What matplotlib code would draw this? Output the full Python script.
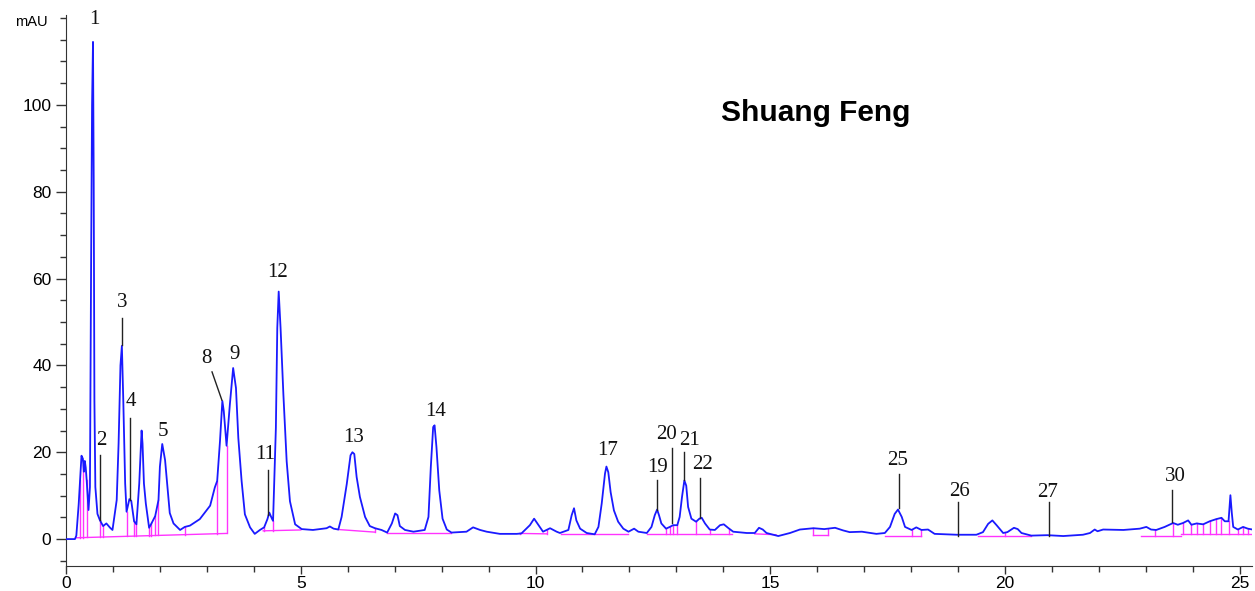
import numpy as np
import matplotlib
matplotlib.use("Agg")
import matplotlib.pyplot as plt
from matplotlib.ticker import MultipleLocator

# chromatogram trace (retention time in min, signal in mAU)
rt = [0.00, 0.19, 0.22, 0.27, 0.30, 0.33, 0.36, 0.38, 0.40, 0.42, 0.44, 0.48,
      0.51, 0.535, 0.555, 0.575, 0.59, 0.605, 0.625, 0.67, 0.72, 0.79, 0.86,
      0.94, 0.99, 1.08, 1.12, 1.16, 1.19, 1.22, 1.26, 1.29, 1.35, 1.39, 1.45,
      1.50, 1.56, 1.61, 1.63, 1.66, 1.70, 1.77, 1.82, 1.90, 1.97, 2.00, 2.05,
      2.11, 2.16, 2.21, 2.29, 2.43, 2.53, 2.64, 2.85, 3.07, 3.17, 3.22, 3.28,
      3.33, 3.36, 3.42, 3.49, 3.56, 3.62, 3.67, 3.74, 3.81, 3.92, 4.02, 4.13,
      4.22, 4.29, 4.33, 4.39, 4.41, 4.47, 4.50, 4.53, 4.57, 4.63, 4.70, 4.77,
      4.88, 5.02, 5.26, 5.55, 5.62, 5.70, 5.80, 5.87, 5.98, 6.06, 6.10, 6.14,
      6.19, 6.26, 6.37, 6.47, 6.58, 6.72, 6.84, 6.94, 7.01, 7.06, 7.11, 7.22,
      7.40, 7.64, 7.72, 7.77, 7.82, 7.85, 7.89, 7.95, 8.02, 8.11, 8.21, 8.53,
      8.67, 8.82, 8.96, 9.24, 9.60, 9.70, 9.88, 9.97, 10.04, 10.16, 10.31,
      10.45, 10.52, 10.70, 10.77, 10.82, 10.87, 10.95, 11.09, 11.26, 11.34,
      11.41, 11.48, 11.51, 11.55, 11.60, 11.67, 11.76, 11.87, 11.98, 12.05,
      12.10, 12.19, 12.37, 12.47, 12.54, 12.59, 12.63, 12.68, 12.78, 12.86,
      12.93, 13.02, 13.07, 13.12, 13.17, 13.21, 13.25, 13.32, 13.42, 13.49,
      13.54, 13.61, 13.71, 13.82, 13.93, 14.01, 14.10, 14.21, 14.50, 14.67,
      14.76, 14.84, 14.92, 15.17, 15.42, 15.63, 15.92, 16.15, 16.38, 16.55,
      16.69, 16.95, 17.26, 17.44, 17.55, 17.65, 17.72, 17.80, 17.87, 18.01,
      18.11, 18.22, 18.36, 18.50, 18.97, 19.39, 19.53, 19.64, 19.73, 19.82,
      19.96, 20.05, 20.19, 20.27, 20.35, 20.56, 20.90, 21.24, 21.66, 21.81,
      21.91, 21.97, 22.09, 22.52, 22.87, 23.01, 23.11, 23.22, 23.40, 23.58,
      23.68, 23.79, 23.90, 23.97, 24.08, 24.22, 24.36, 24.50, 24.61, 24.68,
      24.76, 24.80, 24.83, 24.86, 24.96, 25.07, 25.17, 25.27]
mau = [0.0, 0.0, 0.8, 8.0, 13.6, 19.2, 18.5, 15.5, 18.0, 16.5, 13.6, 6.7,
       12.0, 64.0, 100.0, 114.5, 83.0, 32.0, 12.0, 5.8, 4.4, 3.0, 3.6,
       2.6, 2.1, 9.0, 22.0, 40.0, 44.5, 32.0, 12.8, 6.3, 9.2, 8.8, 4.1,
       3.4, 12.8, 25.0, 22.0, 12.8, 8.2, 2.6, 3.6, 5.3, 9.0, 16.7, 21.9,
       18.2, 12.1, 6.0, 3.6, 2.1, 2.8, 3.1, 4.6, 7.7, 11.9, 13.4, 22.6,
       31.8, 29.5, 21.5, 31.0, 39.4, 34.8, 23.3, 13.4, 5.7, 2.7, 1.2, 2.1,
       2.7, 4.6, 6.1, 4.6, 4.2, 25.6, 48.6, 57.0, 48.6, 33.3, 17.9, 8.7,
       3.4, 2.3, 2.1, 2.5, 2.9, 2.4, 2.2, 5.1, 12.7, 19.3, 20.0, 19.6,
       14.3, 9.7, 5.1, 3.0, 2.5, 2.1, 1.5, 3.6, 5.9, 5.5, 3.0, 2.1,
       1.7, 2.1, 5.1, 16.6, 25.8, 26.2, 21.2, 11.2, 4.7, 2.2, 1.5, 1.7,
       2.7, 2.1, 1.7, 1.2, 1.2, 1.3, 3.2, 4.7, 3.6, 1.7, 2.5,
       1.7, 1.4, 2.1, 5.5, 7.1, 4.3, 2.4, 1.4, 1.1, 2.8,
       8.2, 15.1, 16.7, 15.4, 10.8, 6.6, 4.0, 2.4, 1.7, 2.1,
       2.4, 1.7, 1.4, 2.8, 5.5, 6.8, 5.5, 3.6, 2.4, 2.8,
       3.2, 3.2, 5.1, 9.7, 13.5, 12.3, 7.4, 4.7, 4.0, 4.7,
       4.9, 3.6, 2.2, 2.1, 3.2, 3.4, 2.6, 1.7, 1.4, 1.4,
       2.6, 2.2, 1.4, 0.7, 1.4, 2.2, 2.5, 2.3, 2.6, 2.0,
       1.6, 1.7, 1.2, 1.4, 2.8, 5.8, 6.8, 5.1, 2.8, 2.1,
       2.7, 2.1, 2.2, 1.2, 1.0, 1.0, 1.6, 3.5, 4.3, 3.2,
       1.4, 1.6, 2.6, 2.3, 1.4, 0.8, 0.9, 0.7, 1.0, 1.4,
       2.2, 1.8, 2.2, 2.1, 2.4, 2.8, 2.2, 2.1, 2.8, 3.7,
       3.3, 3.7, 4.3, 3.3, 3.6, 3.4, 4.1, 4.6, 4.9, 4.1,
       4.1, 10.1, 6.0, 2.8, 2.2, 2.8, 2.4, 2.2]

# integration baselines (start time, start mAU, end time, end mAU)
base_t0 = [0.22, 4.20, 5.80, 6.84, 9.67, 10.55, 12.37, 14.67, 15.91, 17.44, 19.43, 22.90, 23.75]
base_y0 = [0.3, 1.9, 2.2, 1.4, 1.3, 1.2, 1.2, 1.2, 1.0, 0.8, 0.8, 0.7, 1.2]
base_t1 = [3.42, 5.00, 6.58, 8.21, 10.24, 11.96, 14.18, 15.12, 16.23, 18.22, 20.56, 23.75, 25.25]
base_y1 = [1.3, 2.1, 1.6, 1.4, 1.2, 1.2, 1.2, 1.0, 1.0, 0.8, 0.8, 0.7, 1.2]

# peak cut lines dropped to the baseline
drop_t = [0.30, 0.37, 0.44, 0.72, 0.79, 1.29, 1.45, 1.50, 1.77, 1.82, 1.90, 1.97,
          2.53, 3.22, 3.42, 4.22, 4.41, 5.80, 6.58, 6.84, 8.21, 9.67, 10.24,
          11.26, 12.78, 12.86, 12.93, 13.02, 13.42, 13.71, 14.13, 15.91, 16.23,
          18.01, 18.22, 20.00, 23.19, 23.58, 23.79, 23.97, 24.08, 24.22, 24.36,
          24.50, 24.61, 24.76, 24.96, 25.07, 25.17]

# peak numbers
peak_lbl = ["1", "2", "3", "4", "5", "8", "9", "11", "12", "13", "14", "17",
            "19", "20", "21", "22", "25", "26", "27", "30"]
peak_lbl_t = [0.60, 0.76, 1.19, 1.39, 2.07, 3.00, 3.58, 4.24, 4.51, 6.13, 7.88,
              11.54, 12.59, 12.80, 13.29, 13.56, 17.72, 19.04, 20.91, 23.62]
peak_lbl_y = [119.6, 22.8, 54.4, 31.6, 24.7, 41.7, 42.4, 19.4, 61.5, 23.3, 29.3,
              20.3, 16.4, 24.0, 22.8, 17.1, 18.2, 11.0, 10.8, 14.5]

# leader lines from numbers to peaks
lead_t0 = [0.72, 1.19, 1.36, 3.11, 4.30, 12.59, 12.90, 13.16, 13.50, 17.74, 18.99, 20.93, 23.56]
lead_y0 = [19.4, 51.0, 27.9, 38.5, 15.9, 13.6, 21.0, 20.0, 14.0, 15.0, 8.5, 8.5, 11.3]
lead_t1 = [0.72, 1.19, 1.36, 3.32, 4.30, 12.59, 12.90, 13.16, 13.50, 17.74, 18.99, 20.93, 23.56]
lead_y1 = [4.4, 44.7, 9.0, 32.0, 5.5, 6.7, 3.6, 13.6, 4.8, 7.1, 0.8, 0.8, 3.9]


def baseline_at(t):
    for a, ya, b, yb in zip(base_t0, base_y0, base_t1, base_y1):
        if a - 1e-6 <= t <= b + 1e-6:
            return ya + (yb - ya) * (t - a) / (b - a)
    return 1.0


fig = plt.figure(figsize=(12.55, 5.91), dpi=100)
ax = fig.add_axes([66 / 1255, 1 - 566 / 591, (1252 - 66) / 1255, (566 - 15) / 591])

for a, ya, b, yb in zip(base_t0, base_y0, base_t1, base_y1):
    ax.plot([a, b], [ya, yb], color="#ff33ff", lw=1.0, zorder=2)
for t in drop_t:
    ax.plot([t, t], [baseline_at(t), np.interp(t, rt, mau)], color="#ff33ff", lw=1.0, zorder=2)

ax.plot(rt, mau, color="#1a1aff", lw=1.3, zorder=3)

for a, ya, b, yb in zip(lead_t0, lead_y0, lead_t1, lead_y1):
    ax.plot([a, b], [ya, yb], color="#222222", lw=1.0, zorder=4)
for s, t, y in zip(peak_lbl, peak_lbl_t, peak_lbl_y):
    ax.text(t, y, s, ha="center", va="center", fontsize=15,
            family="Liberation Serif", color="#111111")

ax.text(15.97, 98.2, "Shuang Feng", ha="center", va="center", fontsize=21.5,
        fontweight="bold", family="Liberation Sans")

ax.set_xlim(0, 25.26)
ax.set_ylim(-6.2, 120.7)
for side in ("top", "right"):
    ax.spines[side].set_visible(False)
ax.spines["left"].set_color("#333333")
ax.spines["bottom"].set_color("#333333")
ax.xaxis.set_major_locator(MultipleLocator(5))
ax.xaxis.set_minor_locator(MultipleLocator(1))
ax.yaxis.set_major_locator(MultipleLocator(20))
ax.yaxis.set_minor_locator(MultipleLocator(5))
ax.set_yticks([0, 20, 40, 60, 80, 100])
ax.tick_params(axis="x", which="major", length=6, width=1, color="#333333", pad=1)
ax.tick_params(axis="x", which="minor", length=4, width=1, color="#333333")
ax.tick_params(axis="y", which="major", length=7, width=1, color="#333333")
ax.tick_params(axis="y", which="minor", length=4, width=1, color="#333333")
for lab in ax.get_xticklabels() + ax.get_yticklabels():
    lab.set_fontsize(12.5)
    lab.set_family("Liberation Sans")
ax.text(-0.4, 119.0, "mAU", ha="right", va="center", fontsize=10.5, family="Liberation Sans")

fig.savefig("out.png", dpi=100)
